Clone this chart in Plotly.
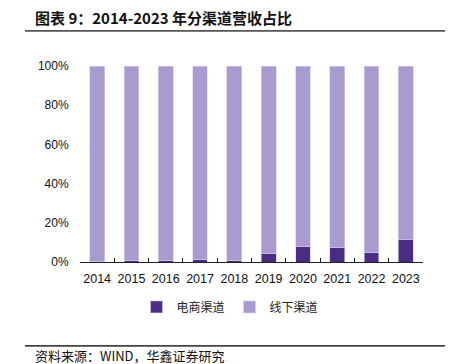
import plotly.graph_objects as go

years = ["2014", "2015", "2016", "2017", "2018", "2019", "2020", "2021", "2022", "2023"]
online = [0.1, 0.7, 0.7, 1.2, 0.7, 4.2, 7.7, 7.4, 4.6, 11.5]
offline = [100 - v for v in online]

c_on = "#4B2C83"
c_off = "#A99BCF"
PW, PH = 343, 196

fig = go.Figure()
fig.add_trace(go.Bar(x=years, y=online, name="电商渠道", marker=dict(color=c_on, line=dict(color="#D8D0EA", width=0.6)), width=0.43))
fig.add_trace(go.Bar(x=years, y=offline, name="线下渠道", marker=dict(color=c_off, line=dict(color="#D8D0EA", width=0.6)), width=0.43))

fig.add_shape(type="line", xref="paper", yref="paper", x0=(25 - 80) / PW, x1=(445 - 80) / PW,
              y0=(262 - 31) / PH, y1=(262 - 31) / PH, line=dict(color="#555555", width=1.6))
fig.add_shape(type="line", xref="paper", yref="paper", x0=(25 - 80) / PW, x1=(445 - 80) / PW,
              y0=(262 - 346) / PH, y1=(262 - 346) / PH, line=dict(color="#444444", width=1.6))

fig.update_layout(
    barmode="stack",
    width=461, height=364,
    margin=dict(l=80, r=38, t=66, b=102),
    paper_bgcolor="white", plot_bgcolor="white",
    font=dict(family="Liberation Sans, Arial", size=12, color="#111"),
    showlegend=True,
    legend=dict(orientation="h", x=(230 - 80) / PW, xanchor="center", y=-0.155, yanchor="top",
                font=dict(family="Noto Sans CJK SC", size=12, color="#222"),
                traceorder="normal"),
    xaxis=dict(type="category", showline=True, linecolor="#222", linewidth=1.2,
               ticks="inside", tickson="boundaries", ticklen=4, tickcolor="#222",
               ticklabelstandoff=5,
               showgrid=False, tickangle=0, tickfont=dict(size=12.5, color="#111")),
    yaxis=dict(range=[0, 100], tickvals=[0, 20, 40, 60, 80, 100], ticktext=["0%", "20%", "40%", "60%", "80%", "100%"],
               showgrid=False, showline=False, zeroline=False, ticks="outside", ticklen=8,
               tickcolor="rgba(0,0,0,0)", tickfont=dict(size=12, color="#111")),
    annotations=[
        dict(text="<b>图表 9：2014-2023 年分渠道营收占比</b>", xref="paper", yref="paper",
             x=(33 - 80) / PW, y=(262 - 18) / PH, xanchor="left", yanchor="middle", showarrow=False,
             font=dict(family="Noto Sans CJK SC", size=15, color="#111")),
        dict(text="资料来源：WIND，华鑫证券研究", xref="paper", yref="paper",
             x=(33 - 80) / PW, y=(262 - 355) / PH, xanchor="left", yanchor="middle", showarrow=False,
             font=dict(family="Noto Sans CJK SC", size=13, color="#111")),
    ],
)

js = (
    "document.body.style.margin='0';document.body.style.overflow='hidden';"
    "var mk=function(t,c){var d=document.createElement('div');"
    "d.style.cssText='position:absolute;left:25px;width:420px;height:0;top:'+t+'px;border-top:1.5px solid '+c+';pointer-events:none;z-index:10';"
    "document.body.appendChild(d);};"
    "mk(30,'#555555');mk(345,'#444444');"
)

fig.write_html("out.html", config={"displayModeBar": False}, post_script=js)
